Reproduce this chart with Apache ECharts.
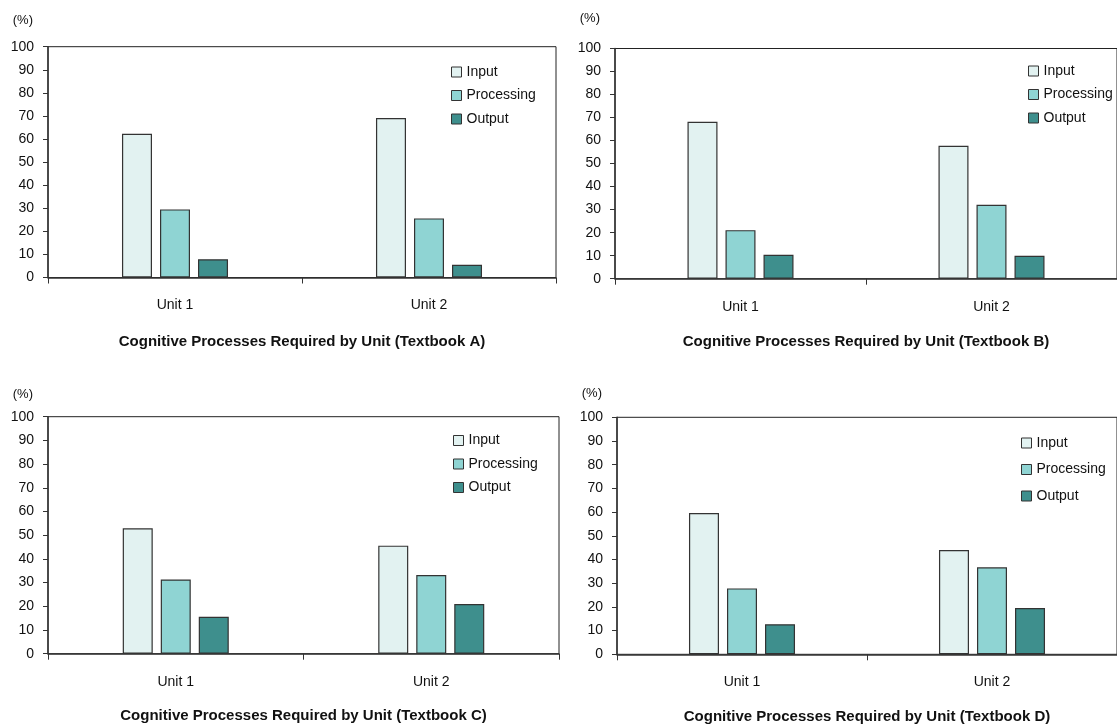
<!DOCTYPE html>
<html>
<head>
<meta charset="utf-8">
<script src="https://cdn.jsdelivr.net/npm/echarts@6/dist/echarts.min.js"></script>
<style>
  html, body { margin: 0; padding: 0; background: #fff; }
  #chart { width: 1117px; height: 727px; }
</style>
</head>
<body>
<div id="chart"></div>
<script>
// ---- data ----
const categories = ['Unit 1', 'Unit 2'];
const seriesNames = ['Input', 'Processing', 'Output'];
const titles = [
  'Cognitive Processes Required by Unit (Textbook A)',
  'Cognitive Processes Required by Unit (Textbook B)',
  'Cognitive Processes Required by Unit (Textbook C)',
  'Cognitive Processes Required by Unit (Textbook D)'
];
const inputA = [62.3, 69.1];
const processingA = [29.5, 25.6];
const outputA = [7.9, 5.5];
const inputB = [68.2, 57.7];
const processingB = [21.1, 32.1];
const outputB = [10.4, 10.0];
const inputC = [52.9, 45.6];
const processingC = [31.3, 33.2];
const outputC = [15.6, 21.0];
const inputD = [59.6, 44.0];
const processingD = [27.8, 36.7];
const outputD = [12.7, 19.5];
const yUnit = '(%)';

// ---- styling / layout ----
const FONT = "'Liberation Sans', Arial, sans-serif";
const colors = ['#e2f2f1', '#8fd4d3', '#3e8f8d'];
const borderCol = '#333333';
const panels = [
  { data: [inputA, processingA, outputA], grid: { left: 48, top: 46.7, width: 508, height: 230.8 },
    legend: { left: 451, top: 64, gap: 7.5 }, unitGap: 26.7, titleGap: 57 },
  { data: [inputB, processingB, outputB], grid: { left: 615, top: 48.5, width: 512, height: 230.2 },
    legend: { left: 1028, top: 63, gap: 7.5 }, unitGap: 30.2, titleGap: 55.5 },
  { data: [inputC, processingC, outputC], grid: { left: 48, top: 416.7, width: 511, height: 237 },
    legend: { left: 453, top: 432.5, gap: 7.5 }, unitGap: 22.2, titleGap: 55 },
  { data: [inputD, processingD, outputD], grid: { left: 617, top: 417.3, width: 508, height: 237 },
    legend: { left: 1021, top: 435, gap: 10.5 }, unitGap: 24, titleGap: 55 }
];

const option = {
  animation: false,
  backgroundColor: '#fff',
  textStyle: { fontFamily: FONT },
  grid: [], xAxis: [], yAxis: [], series: [], legend: []
};

panels.forEach((p, i) => {
  option.grid.push(Object.assign({
    show: true, borderColor: '#222', borderWidth: 1, backgroundColor: 'transparent',
    containLabel: false
  }, p.grid));
  option.xAxis.push({
    type: 'category', gridIndex: i, data: categories,
    axisLine: { show: true, lineStyle: { color: '#333', width: 1.5 } },
    axisTick: { show: true, length: 6, alignWithLabel: false, lineStyle: { color: '#333', width: 1 } },
    axisLabel: { fontFamily: FONT, fontSize: 14, color: '#111', margin: 21 },
    name: titles[i], nameLocation: 'middle', nameGap: p.titleGap,
    nameTextStyle: { fontFamily: FONT, fontSize: 15, fontWeight: 'bold', color: '#111' },
    splitLine: { show: false }
  });
  option.yAxis.push({
    type: 'value', gridIndex: i, min: 0, max: 100, interval: 10,
    axisLine: { show: true, lineStyle: { color: '#333', width: 1.5 } },
    axisTick: { show: true, length: 5, lineStyle: { color: '#333', width: 1 } },
    axisLabel: { fontFamily: FONT, fontSize: 14, color: '#111', margin: 14 },
    splitLine: { show: false },
    name: yUnit, nameLocation: 'end', nameGap: p.unitGap,
    nameTextStyle: { fontFamily: FONT, fontSize: 13, color: '#111', align: 'right', verticalAlign: 'middle', padding: [0, 15, 0, 0] }
  });
  p.data.forEach((vals, k) => {
    option.series.push({
      type: 'bar', name: seriesNames[k], xAxisIndex: i, yAxisIndex: i, data: vals,
      barWidth: 30, barGap: '26.7%',
      itemStyle: { color: colors[k], borderColor: borderCol, borderWidth: 1.2 }
    });
  });
  option.legend.push({
    orient: 'vertical', left: p.legend.left, top: p.legend.top, padding: 0,
    data: seriesNames, icon: 'rect', itemWidth: 10, itemHeight: 10, itemGap: p.legend.gap,
    selectedMode: false,
    itemStyle: { borderColor: '#333', borderWidth: 1 },
    textStyle: { fontFamily: FONT, fontSize: 14, color: '#111', lineHeight: 16 }
  });
});

const chart = echarts.init(document.getElementById('chart'), null, { renderer: 'canvas' });
chart.setOption(option);
</script>
</body>
</html>
